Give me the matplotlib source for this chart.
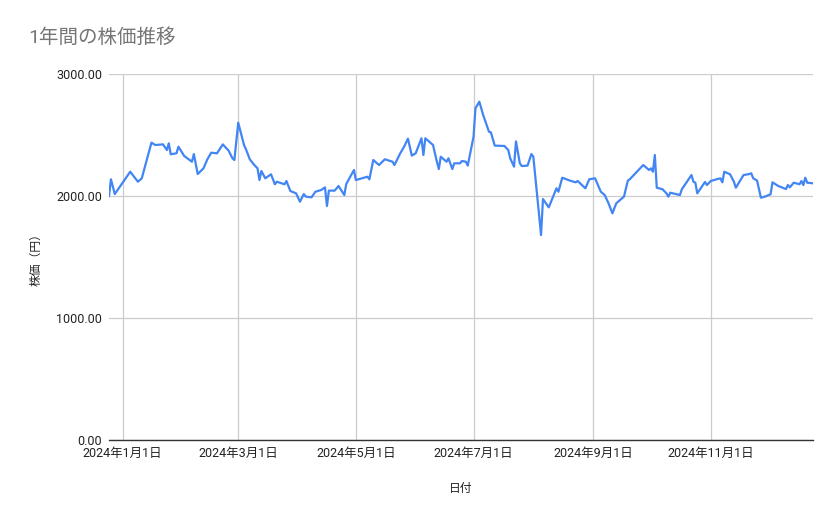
import matplotlib
matplotlib.use("Agg")
import matplotlib.pyplot as plt
import pandas as pd

plt.rcParams['font.family'] = ['Roboto', 'Noto Sans CJK JP', 'DejaVu Sans']

dates = [
    "2023-12-25", "2023-12-26", "2023-12-28", "2024-01-05", "2024-01-09", "2024-01-11",
    "2024-01-16", "2024-01-18", "2024-01-22", "2024-01-24", "2024-01-25", "2024-01-26",
    "2024-01-29", "2024-01-30", "2024-02-02", "2024-02-06", "2024-02-07", "2024-02-09",
    "2024-02-12", "2024-02-14", "2024-02-16", "2024-02-19", "2024-02-22", "2024-02-25",
    "2024-02-27", "2024-02-28", "2024-03-01", "2024-03-04", "2024-03-05", "2024-03-07",
    "2024-03-09", "2024-03-11", "2024-03-12", "2024-03-13", "2024-03-15", "2024-03-18",
    "2024-03-20", "2024-03-21", "2024-03-25", "2024-03-26", "2024-03-28", "2024-03-31",
    "2024-04-02", "2024-04-04", "2024-04-05", "2024-04-08", "2024-04-10", "2024-04-13",
    "2024-04-15", "2024-04-16", "2024-04-17", "2024-04-20", "2024-04-22", "2024-04-25",
    "2024-04-26", "2024-04-30", "2024-05-01", "2024-05-07", "2024-05-08", "2024-05-10",
    "2024-05-13", "2024-05-16", "2024-05-20", "2024-05-21", "2024-05-24", "2024-05-26",
    "2024-05-28", "2024-05-30", "2024-06-01", "2024-06-04", "2024-06-05", "2024-06-06",
    "2024-06-07", "2024-06-10", "2024-06-12", "2024-06-13", "2024-06-14", "2024-06-17",
    "2024-06-18", "2024-06-20", "2024-06-21", "2024-06-24", "2024-06-25", "2024-06-27",
    "2024-06-28", "2024-07-01", "2024-07-02", "2024-07-04", "2024-07-06", "2024-07-09",
    "2024-07-10", "2024-07-12", "2024-07-17", "2024-07-19", "2024-07-20", "2024-07-22",
    "2024-07-23", "2024-07-25", "2024-07-26", "2024-07-29", "2024-07-31", "2024-08-01",
    "2024-08-05", "2024-08-06", "2024-08-09", "2024-08-13", "2024-08-14", "2024-08-16",
    "2024-08-20", "2024-08-23", "2024-08-24", "2024-08-28", "2024-08-30", "2024-09-02",
    "2024-09-05", "2024-09-07", "2024-09-09", "2024-09-11", "2024-09-13", "2024-09-15",
    "2024-09-17", "2024-09-19", "2024-09-20", "2024-09-27", "2024-09-30", "2024-10-01",
    "2024-10-02", "2024-10-03", "2024-10-04", "2024-10-07", "2024-10-09", "2024-10-10",
    "2024-10-11", "2024-10-16", "2024-10-17", "2024-10-22", "2024-10-23", "2024-10-24",
    "2024-10-25", "2024-10-29", "2024-10-30", "2024-11-01", "2024-11-04", "2024-11-06",
    "2024-11-07", "2024-11-08", "2024-11-11", "2024-11-13", "2024-11-14", "2024-11-18",
    "2024-11-21", "2024-11-22", "2024-11-23", "2024-11-25", "2024-11-27", "2024-11-29",
    "2024-12-02", "2024-12-03", "2024-12-06", "2024-12-10", "2024-12-11", "2024-12-12",
    "2024-12-14", "2024-12-17", "2024-12-18", "2024-12-19", "2024-12-20", "2024-12-21",
    "2024-12-24",
]
prices = [
    2000, 2137, 2016, 2199, 2117, 2145,
    2437, 2418, 2423, 2377, 2432, 2342,
    2350, 2404, 2328, 2281, 2344, 2180,
    2227, 2301, 2355, 2350, 2423, 2372,
    2309, 2295, 2601, 2418, 2383, 2301,
    2260, 2227, 2131, 2205, 2145, 2178,
    2096, 2117, 2096, 2123, 2041, 2022,
    1953, 2016, 1995, 1989, 2035, 2049,
    2071, 1918, 2044, 2044, 2082, 2008,
    2098, 2213, 2131, 2158, 2137, 2295,
    2254, 2301, 2281, 2254, 2350, 2404,
    2470, 2331, 2350, 2473, 2336, 2473,
    2459, 2418, 2281, 2221, 2322, 2281,
    2309, 2221, 2268, 2268, 2287, 2281,
    2249, 2486, 2719, 2773, 2664, 2527,
    2521, 2413, 2410, 2377, 2309, 2240,
    2448, 2268, 2246, 2249, 2344, 2322,
    1680, 1975, 1907, 2063, 2035, 2150,
    2126, 2112, 2123, 2063, 2137, 2145,
    2035, 2008, 1940, 1858, 1940, 1967,
    1995, 2126, 2137, 2254, 2213, 2227,
    2199, 2336, 2068, 2055, 2022, 1995,
    2027, 2008, 2055, 2172, 2117, 2109,
    2022, 2115, 2090, 2123, 2137, 2145,
    2112, 2199, 2178, 2117, 2068, 2172,
    2180, 2186, 2145, 2126, 1986, 1995,
    2014, 2112, 2082, 2057, 2090, 2071,
    2109, 2096, 2123, 2090, 2150, 2109,
    2104,
]
x_ticks = ["2024-01-01", "2024-03-01", "2024-05-01", "2024-07-01", "2024-09-01", "2024-11-01"]
y_ticks = [0, 1000, 2000, 3000]

df = pd.DataFrame({"date": pd.to_datetime(dates), "price": prices})
tick_dates = pd.to_datetime(x_ticks)

fig = plt.figure(figsize=(8.39, 5.19), dpi=100)
ax = fig.add_axes([109 / 839, 1 - 440 / 519, (813 - 109) / 839, (440 - 74) / 519])

ax.plot(df["date"], df["price"], color="#4285f4", linewidth=1.6)

ax.set_xlim(df["date"].min(), df["date"].max())
ax.set_ylim(0, 3000)
ax.set_yticks(y_ticks)
ax.set_yticklabels([f"{v:.2f}" for v in y_ticks])
ax.set_xticks(tick_dates)
ax.set_xticklabels([f"{d.year}年{d.month}月{d.day}日" for d in tick_dates])

ax.grid(True, color="#cccccc", linewidth=0.9)
ax.set_axisbelow(True)
for s in ["top", "right", "left"]:
    ax.spines[s].set_visible(False)
ax.spines["bottom"].set_color("#333333")
ax.spines["bottom"].set_linewidth(1.0)
ax.spines["bottom"].set_zorder(3)
ax.tick_params(axis="both", length=0, labelsize=9, labelcolor="#222222")
ax.tick_params(axis="y", pad=5)
ax.tick_params(axis="x", pad=5)

ax.set_ylabel("株価（円）", fontsize=8.5, color="#222222", labelpad=10)
ax.set_xlabel("日付", fontsize=8.5, color="#222222", labelpad=16)

fig.text(28 / 839, 1 - 38 / 519, "1年間の株価推移", fontsize=14, color="#757575",
         va="center", ha="left")

fig.savefig("out.png", dpi=100)
